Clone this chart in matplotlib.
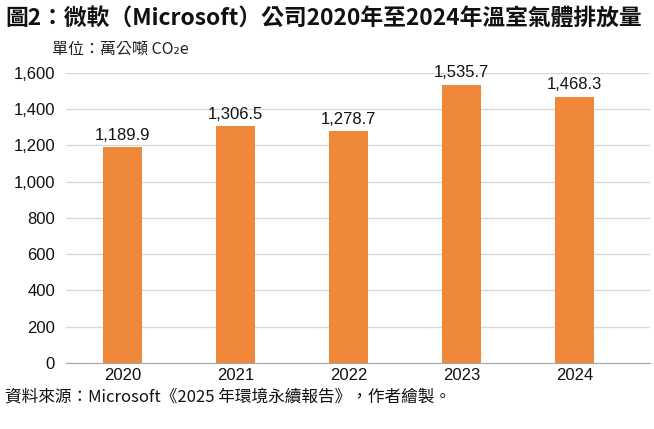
import matplotlib
matplotlib.use("Agg")
import matplotlib.pyplot as plt
import numpy as np

years = ["2020", "2021", "2022", "2023", "2024"]
emissions = [1189.9, 1306.5, 1278.7, 1535.7, 1468.3]
y_ticks = [0, 200, 400, 600, 800, 1000, 1200, 1400, 1600]

title = "圖2：微軟（Microsoft）公司2020年至2024年溫室氣體排放量"
unit = "單位：萬公噸 CO₂e"
source = "資料來源：Microsoft《2025 年環境永續報告》，作者繪製。"

cjk = ["Noto Sans CJK TC", "DejaVu Sans"]
latin = ["Liberation Sans", "DejaVu Sans"]
orange = "#F0883A"

fig = plt.figure(figsize=(6.54, 4.29), dpi=100)
ax = fig.add_axes([0.101, 0.154, 0.893, 0.676])

x = np.arange(len(years))
bars = ax.bar(x, emissions, width=0.345, color=orange, zorder=2)

for xi, v in zip(x, emissions):
    ax.text(xi, v + 25, f"{v:,.1f}", ha="center", va="bottom",
            fontsize=12, family=latin, color="#111111")

ax.set_xlim(-0.5, 4.67)
ax.set_ylim(0, 1600)
ax.set_yticks(y_ticks)
ax.set_yticklabels([f"{t:,}" for t in y_ticks], family=latin, fontsize=12)
ax.set_xticks(x)
ax.set_xticklabels(years, family=latin, fontsize=12)
ax.tick_params(length=0, pad=8, colors="#111111")
ax.tick_params(axis="x", pad=4)
ax.grid(axis="y", color="#d9d9d9", linewidth=1, zorder=0)
for s in ["top", "right", "left"]:
    ax.spines[s].set_visible(False)
ax.spines["bottom"].set_color("#a6a6a6")
ax.spines["bottom"].set_zorder(3)

t = fig.text(0.008, 0.985, title, ha="left", va="top", fontsize=17,
             fontweight="bold", family=cjk, color="#111111")
# shrink the title until it fits the width of the picture
r = fig.canvas.get_renderer()
w = t.get_window_extent(r).width
t.set_fontsize(17 * 638 / w)

fig.text(0.08, 0.905, unit, ha="left", va="top", fontsize=11.5,
         family=cjk, color="#222222")
fig.text(0.008, 0.095, source, ha="left", va="top", fontsize=12,
         family=cjk, color="#111111")

fig.savefig("out.png", dpi=100)
